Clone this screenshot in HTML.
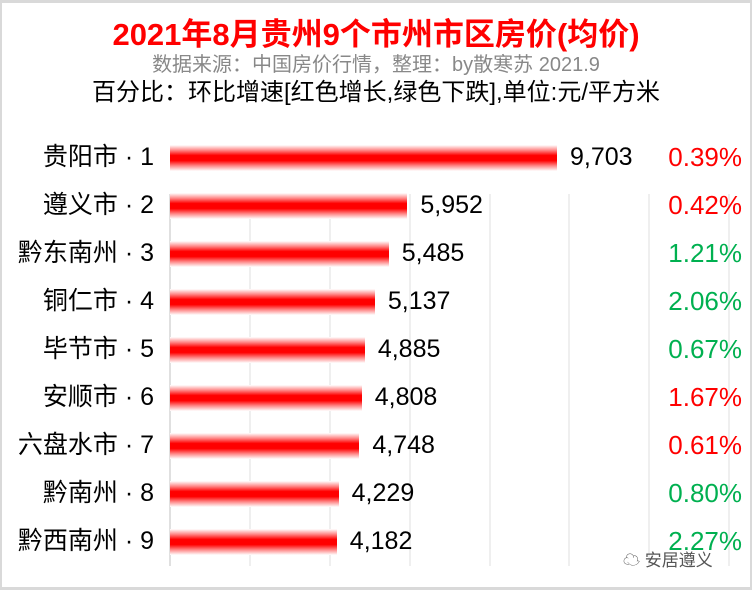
<!DOCTYPE html>
<html><head><meta charset="utf-8"><style>
body{margin:0;width:752px;height:590px;background:#d9d9d9;position:relative;overflow:hidden;font-family:"Liberation Sans","Noto Sans CJK SC",sans-serif}
#p{position:absolute;left:2px;top:3px;width:748px;height:584px;background:#fff}
.t{position:absolute;left:0;width:752px;text-align:center;white-space:nowrap}
.g{position:absolute;top:194px;height:372px;width:2px;background:#efefef}
.bar{position:absolute;left:170px;height:26px;background:linear-gradient(#fff 0%,#f88 20%,#f00 40%,#f00 60%,#f88 80%,#fff 100%)}
.lab{position:absolute;right:598px;font-size:25px;white-space:nowrap;color:#000;line-height:30px}
.v{position:absolute;font-size:25px;color:#000;line-height:30px}
.pc{position:absolute;right:10px;font-size:26px;line-height:30px}
</style></head><body><div id="p"></div>
<div class="t" style="top:17px;font-size:31px;line-height:36px;font-weight:bold;color:#f00">2021年8月贵州9个市州市区房价(均价)</div>
<div class="t" style="top:53px;font-size:20px;line-height:24px;color:#888">数据来源：中国房价行情，整理：by散寒苏 2021.9</div>
<div class="t" style="top:79px;font-size:24px;line-height:28px;color:#000">百分比：环比增速[红色增长,绿色下跌],单位:元/平方米</div>
<div class="g" style="left:169px;background:#e0e0e0"></div>
<div class="g" style="left:249px"></div><div class="g" style="left:329px"></div><div class="g" style="left:409px"></div><div class="g" style="left:489px"></div><div class="g" style="left:568px"></div><div class="g" style="left:648px"></div><div class="g" style="left:728px"></div>
<div id="rows"></div>
<script>
var d=[["贵阳市 · 1",9703,"9,703","0.39%","#f00"],["遵义市 · 2",5952,"5,952","0.42%","#f00"],["黔东南州 · 3",5485,"5,485","1.21%","#00b050"],["铜仁市 · 4",5137,"5,137","2.06%","#00b050"],["毕节市 · 5",4885,"4,885","0.67%","#00b050"],["安顺市 · 6",4808,"4,808","1.67%","#f00"],["六盘水市 · 7",4748,"4,748","0.61%","#f00"],["黔南州 · 8",4229,"4,229","0.80%","#00b050"],["黔西南州 · 9",4182,"4,182","2.27%","#00b050"]];
var h="";d.forEach(function(r,i){var c=158+i*48,w=r[1]/9703*387;
h+='<div class="bar" style="top:'+(c-13)+'px;width:'+w+'px"></div>';
h+='<div class="lab" style="top:'+(c-16)+'px">'+r[0]+'</div>';
h+='<div class="v" style="top:'+(c-16)+'px;left:'+(170+w+13)+'px">'+r[2]+'</div>';
h+='<div class="pc" style="top:'+(c-16)+'px;color:'+r[4]+'">'+r[3]+'</div>';});
document.getElementById("rows").innerHTML=h;
</script>
<div style="position:absolute;left:623px;top:546px;font-size:17px;color:#555">☁ 安居遵义</div>
</body></html>
